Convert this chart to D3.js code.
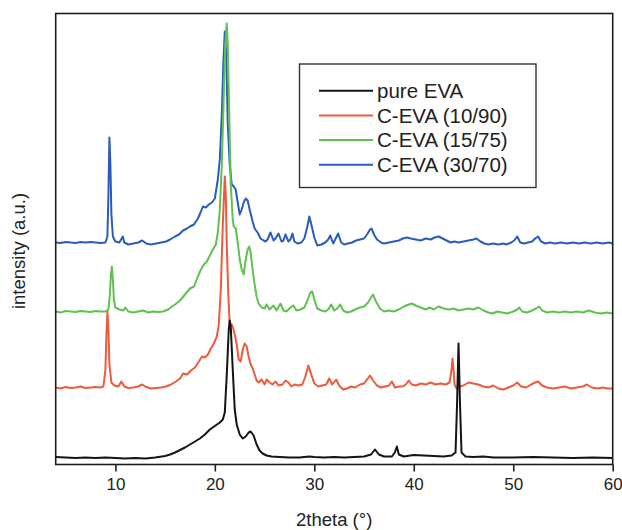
<!doctype html>
<html>
<head>
<meta charset="utf-8">
<title>XRD</title>
<script src="https://cdn.jsdelivr.net/npm/d3@7"></script>
<style>
	body { margin: 0; background: #fff; }
	text { font-family: "Liberation Sans", Arial, sans-serif; fill: #222; }
</style>
</head>
<body>
<div id="main"></div>
<script>
// series names, colors
var seriesNames = ['pure EVA', 'C-EVA (10/90)', 'C-EVA (15/75)', 'C-EVA (30/70)'];
var seriesColors = ['#141414', '#ee5a3c', '#5fc24f', '#2a5bbd'];
var xTicks = [10, 20, 30, 40, 50, 60];

// [2theta, intensity (stacked, a.u.)]
var pureEVA = [[4,7.5],[5,7],[6,6.5],[7,7],[8,6.5],[9,7],[10,6.5],[11,6],[12,6.5],[13,6],[14,7],[15,8.5],[15.5,10],[16,12],[16.5,14.5],[17,17],[17.5,20],[18,23],[18.5,26],[19,30],[19.5,35],[20,38.5],[20.5,42],[20.8,45],[21,52],[21.2,90],[21.4,135],[21.5,144],[21.6,138],[21.8,95],[22,55],[22.2,40],[22.5,30],[22.8,26],[23.1,28],[23.4,32],[23.6,33],[23.9,29],[24.2,20],[24.5,14],[24.8,11],[25.2,9],[25.7,8],[26.5,7.5],[27.5,7],[28.5,7],[29.5,8],[30,7.5],[31,7],[32,7.5],[33,7],[34,7.5],[35,8],[35.7,10],[36.1,15],[36.5,10],[37,8],[37.8,8],[38.1,12],[38.3,18],[38.5,10],[39,8],[40,9.5],[41,9],[42,8.5],[43,8],[43.8,9],[44.2,12],[44.35,60],[44.5,121],[44.65,60],[44.8,12],[45.2,8],[46,7.5],[47,8],[48,7],[50,7],[52,7.5],[54,7],[56,6.5],[58,7],[60,6.5]];

var ceva1090 = [[4,77],[4.5,76],[5,77.5],[5.5,76.5],[6,77],[6.5,78],[7,76.5],[7.5,77],[8,77.5],[8.5,77],[8.8,78],[9,95],[9.1,130],[9.2,153],[9.3,135],[9.4,100],[9.6,82],[9.9,79],[10.3,78],[10.6,83],[10.9,78],[11.3,76.5],[11.8,77],[12.3,78],[12.7,80],[13.1,77.5],[13.6,76],[14.1,76.5],[14.6,77],[15.1,78],[15.6,80],[16.1,83],[16.5,86],[16.8,91],[17.2,90],[17.6,94],[18,97],[18.4,103],[18.7,108],[19,107],[19.3,110],[19.6,116],[19.9,121],[20.2,128],[20.4,140],[20.6,175],[20.8,240],[21,288],[21.1,270],[21.2,220],[21.35,170],[21.5,140],[21.7,140],[21.85,136],[22,130],[22.2,120],[22.4,105],[22.6,103],[22.8,115],[23,121],[23.2,118],[23.4,108],[23.6,100],[23.8,96],[24,90],[24.2,84],[24.4,82],[24.7,85],[25,80],[25.2,85],[25.5,82],[25.8,80],[26.1,83],[26.4,79],[26.8,80],[27.1,84],[27.4,82],[27.7,78],[28,80],[28.4,79],[28.8,80],[29.1,88],[29.4,99],[29.7,90],[30,81],[30.4,78],[30.8,79],[31.2,80],[31.5,86],[31.8,80],[32.2,85],[32.5,79],[32.9,75],[33.3,76],[33.7,78],[34.1,77],[34.6,80],[35,81],[35.3,85],[35.6,89],[35.9,84],[36.3,79],[36.7,77],[37.1,78],[37.5,79],[37.8,83],[38.1,77],[38.5,78],[38.9,78],[39.2,80],[39.5,84],[39.8,80],[40.2,79],[40.7,81],[41.2,80],[41.7,82],[42.2,80],[42.7,81],[43.2,80],[43.6,82],[43.8,95],[43.9,106],[44,95],[44.1,80],[44.3,76],[44.6,78],[45,79],[45.5,82],[46,81],[46.5,80],[47,78],[47.5,77],[48,79],[48.5,76],[49,75],[49.5,77],[50,79],[50.4,82],[50.8,78],[51.3,77],[51.8,80],[52.2,82],[52.5,83],[52.9,79],[53.4,77],[54,76],[54.6,77],[55.2,78],[55.8,76],[56.4,77],[57,78],[57.4,80],[57.9,77],[58.5,76],[59,77],[59.5,76],[60,76]];

var ceva1575 = [[4,153],[4.5,152],[5,153.5],[5.5,153],[6,152.5],[6.5,153.5],[7,153],[7.5,152.5],[8,153.5],[8.5,153],[9,153],[9.3,155],[9.45,170],[9.55,190],[9.65,198],[9.75,185],[9.85,165],[10,157],[10.4,155],[10.8,154],[11,157],[11.3,153],[11.8,152],[12.3,153],[12.8,154],[13.3,152],[13.8,153],[14.3,152.5],[14.8,153],[15.3,155],[15.7,158],[16,160],[16.5,164],[17,170],[17.5,176],[17.9,178],[18.3,188],[18.6,195],[18.9,200],[19.2,203],[19.5,209],[19.8,215],[20.1,220],[20.3,232],[20.5,255],[20.7,300],[20.9,370],[21.05,420],[21.2,441],[21.3,420],[21.45,350],[21.6,280],[21.8,245],[21.9,238],[22.1,236],[22.3,222],[22.5,205],[22.7,195],[22.9,190],[23.1,205],[23.3,215],[23.45,218],[23.6,212],[23.8,195],[24,180],[24.2,168],[24.4,161],[24.7,157],[25,156],[25.2,160],[25.5,155],[25.9,159],[26.2,154],[26.6,161],[26.9,154],[27.2,153],[27.5,156],[27.9,159],[28.2,154],[28.6,155],[29,157],[29.3,164],[29.6,172],[29.8,173],[30,165],[30.3,156],[30.7,154],[31.1,153],[31.4,155],[31.7,160],[32,154],[32.3,156],[32.6,160],[32.9,154],[33.3,152],[33.7,153],[34.1,155],[34.6,157],[35,158],[35.4,162],[35.7,167],[35.9,170],[36.2,163],[36.6,156],[37,153],[37.5,154],[38,153],[38.5,155],[39,158],[39.5,160],[39.8,161],[40.2,159],[40.7,157],[41.2,155],[41.6,157],[42,155],[42.5,158],[43,156],[43.5,155],[44,156],[44.5,154],[45,155],[45.5,156],[46,155],[46.5,157],[47,154],[47.5,152],[47.9,151],[48.4,153],[48.9,152],[49.4,151],[50,153],[50.4,155],[50.6,157],[50.9,153],[51.4,152],[51.9,154],[52.3,156],[52.6,158],[52.9,154],[53.4,152],[54,153],[54.6,152],[55.2,153],[55.8,152],[56.4,153],[57,152],[57.6,154],[58.2,152],[58.8,151],[59.4,152],[60,151]];

var ceva3070 = [[4,222],[4.5,221.5],[5,222.5],[5.5,222],[6,221.5],[6.5,222.5],[7,222],[7.5,222.5],[8,222],[8.5,221.5],[9,222],[9.2,228],[9.3,270],[9.4,327],[9.5,300],[9.6,250],[9.75,228],[10,223],[10.4,222],[10.75,228],[10.9,222],[11.3,220],[11.8,221],[12.3,222],[12.7,224],[13.1,221],[13.6,220],[14.1,221],[14.6,222],[15.1,223],[15.5,225],[16,228],[16.4,230],[16.8,234],[17.2,236],[17.5,238],[17.9,240],[18.3,246],[18.6,253],[18.8,258],[19.1,257],[19.4,260],[19.7,262],[20,266],[20.3,285],[20.5,305],[20.7,350],[20.85,400],[21,433],[21.15,410],[21.3,340],[21.5,300],[21.7,280],[21.9,278],[22.1,275],[22.3,262],[22.5,250],[22.7,255],[22.9,262],[23.1,266],[23.3,264],[23.5,255],[23.8,243],[24,236],[24.3,232],[24.6,226],[24.9,224],[25.1,223],[25.3,225],[25.6,232],[25.9,224],[26.1,226],[26.4,231],[26.7,223],[26.9,224],[27.1,230],[27.4,223],[27.6,225],[27.8,231],[28,223],[28.3,221],[28.7,222],[29,226],[29.3,238],[29.5,248],[29.7,240],[30,227],[30.3,219],[30.7,220],[31.1,222],[31.4,225],[31.6,229],[31.9,221],[32.2,227],[32.4,231],[32.7,222],[33,220],[33.4,221],[33.8,222],[34.2,224],[34.6,225],[35,226],[35.3,230],[35.6,235],[35.75,236],[36,230],[36.3,225],[36.7,222],[37,221],[37.5,222],[38,223],[38.5,224],[38.9,226],[39.3,227],[39.7,226],[40.2,225],[40.7,224],[41.2,226],[41.7,225],[42.1,227],[42.5,228],[42.9,226],[43.3,224],[43.7,222],[44.1,223],[44.5,222],[45,223],[45.5,224],[46,225],[46.3,226],[46.7,223],[47.1,221],[47.5,220],[48,221],[48.5,220],[49,221],[49.3,220],[49.8,222],[50.1,224],[50.4,228],[50.7,222],[51.1,221],[51.5,222],[51.9,223],[52.2,226],[52.5,228],[52.8,223],[53.2,221],[53.7,222],[54.2,221],[54.8,222],[55.4,221],[56,222],[56.6,221],[57.2,222],[57.8,221],[58.4,222],[59,221],[59.6,222],[60,221]];

var allSeries = [pureEVA, ceva1090, ceva1575, ceva3070];

var totalWidth = 622, totalHeight = 530;
var margin = { top: 13.5, right: 9.3, bottom: 65.5, left: 55.7 };
var width = totalWidth - margin.left - margin.right,
	height = totalHeight - margin.top - margin.bottom;

var svg = d3.select('#main').append('svg')
	.attr('width', totalWidth)
	.attr('height', totalHeight);

var g = svg.append('g')
	.attr('transform', 'translate(' + margin.left + ',' + margin.top + ')');

var x = d3.scaleLinear().domain([4, 60]).range([0, width]);
var y = d3.scaleLinear().domain([0, 451]).range([height, 0]);

var line = d3.line()
	.x(function(d) { return x(d[0]); })
	.y(function(d) { return y(d[1]); });

// curves, top series first so pure EVA sits on top
for (var i = allSeries.length - 1; i >= 0; i--) {
	g.append('path')
		.datum(allSeries[i])
		.attr('d', line)
		.attr('fill', 'none')
		.attr('stroke', seriesColors[i])
		.attr('stroke-width', 2)
		.attr('stroke-linejoin', 'round');
}

// frame
g.append('rect')
	.attr('x', 0)
	.attr('y', 0)
	.attr('width', width)
	.attr('height', height)
	.attr('fill', 'none')
	.attr('stroke', '#1e1e1e')
	.attr('stroke-width', 1.6);

// x axis
var xAxis = g.append('g')
	.attr('transform', 'translate(0,' + height + ')')
	.call(d3.axisBottom(x).tickValues(xTicks).tickSize(7).tickSizeOuter(0).tickPadding(6));
xAxis.select('.domain').remove();
xAxis.selectAll('line').attr('stroke', '#1e1e1e').attr('stroke-width', 1.6);
xAxis.selectAll('text')
	.attr('fill', '#2a2a2a')
	.style('font-size', '17px')
	.style('font-family', '"Liberation Sans", Arial, sans-serif');

// axis titles
svg.append('text')
	.attr('x', margin.left + width / 2)
	.attr('y', 526)
	.attr('text-anchor', 'middle')
	.style('font-size', '18.5px')
	.text('2theta (°)');

svg.append('text')
	.attr('transform', 'translate(25,251) rotate(-90)')
	.attr('text-anchor', 'middle')
	.style('font-size', '18.5px')
	.text('intensity (a.u.)');

// legend
var legend = svg.append('g');
legend.append('rect')
	.attr('x', 299.5)
	.attr('y', 64)
	.attr('width', 236.5)
	.attr('height', 123.5)
	.attr('fill', '#fff')
	.attr('stroke', '#333')
	.attr('stroke-width', 1.4);

seriesNames.forEach(function(name, k) {
	var ly = 90.7 + k * 24.7;
	legend.append('line')
		.attr('x1', 319).attr('x2', 373)
		.attr('y1', ly).attr('y2', ly)
		.attr('stroke', seriesColors[k])
		.attr('stroke-width', 2);
	legend.append('text')
		.attr('x', 377)
		.attr('y', ly)
		.attr('dy', '0.36em')
		.style('font-size', '20.5px')
		.text(name);
});
</script>
</body>
</html>
